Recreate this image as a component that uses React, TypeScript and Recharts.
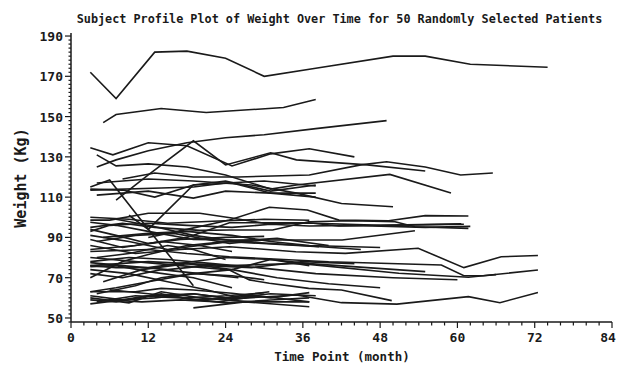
import React from 'react';
import { LineChart, Line, XAxis, YAxis } from 'recharts';

// Month / weight (kg) pairs for each subject
const upperProfiles: [number, number][][] = [
  [[3, 172], [7, 159], [13, 182], [18, 182.5], [24, 179], [30, 170], [38, 174], [50, 180], [55, 180], [62, 176], [74, 174.5]],
  [[5, 147], [7, 151], [14, 154], [21, 152], [33, 154.5], [38, 158.5]],
  [[4, 125], [7, 128.5], [12, 133], [18, 137], [24, 139.5], [30, 141], [38, 144], [49, 148]],
  [[3, 134.5], [6.5, 131], [12, 137], [18, 135.5], [25, 125.5], [31, 131.5], [37, 134], [44, 130]],
  [[4, 131], [7, 125.5], [12, 126.5], [18, 125], [24, 121], [31, 114], [35, 116], [49.5, 121.3], [59, 112]],
  [[7, 108.5], [12, 121], [19, 138], [24, 126], [31, 132], [35, 128.5], [46, 126], [55, 123]],
  [[8, 119], [13, 122], [19, 120], [26, 120], [37, 121], [45, 126], [49, 127.6], [55, 125], [60.5, 121], [65.5, 122]],
  [[3, 115], [6, 118.5], [12, 94], [19, 66]],
  [[9, 101], [12, 94], [19, 116], [24, 118], [31, 113], [38, 116]],
  [[3, 113.5], [14, 114.5], [19, 115], [24, 117], [30, 118], [38, 115.5]],
  [[4, 111], [12, 113], [19, 109.5], [24, 113], [31, 112], [38, 110]],
  [[3, 114], [8, 113.5], [13, 110], [19, 116], [25, 117], [31, 112], [38, 112]],
  [[4, 117], [12, 119], [19, 118], [28, 116], [35, 112], [42, 106.8], [50, 105.2]],
];

const middleProfiles: [number, number][][] = [
  [[3, 98.6], [6, 98.6], [12, 102], [20, 102], [25, 99.6], [30, 97], [38, 97], [48, 96], [61, 96.5]],
  [[12, 90], [18, 94], [24.6, 98.6], [30.8, 105], [36.7, 103.6], [41.6, 98.6], [49.3, 98.3], [55, 100.8], [61.7, 100.6]],
  [[3, 95], [8, 97], [13, 95], [20, 93.5], [24.6, 93.7], [31.3, 93.7], [36.9, 97.8], [43.6, 98.3], [50.3, 97.8], [53.4, 95.3], [61.7, 94.5]],
  [[3, 94], [7, 91], [12, 87], [18, 90], [24.6, 97.3], [36.9, 97.3], [41.6, 95.7], [60.6, 96.7]],
  [[3, 97.5], [7, 96], [12, 93], [19, 89], [24.6, 88.7], [31.3, 88.7], [42.1, 88.7], [53.4, 93.3]],
  [[3, 91], [9, 88], [15, 84], [24.6, 87.9], [38.5, 85.4]],
  [[4, 88], [10, 91], [16, 92], [24.6, 87], [30.8, 89]],
  [[3, 86], [10, 82], [17, 84], [24.6, 85.4], [34.9, 82.9], [42.6, 82.1], [53.9, 84.6], [61, 75], [66.8, 80.4], [72.5, 81]],
  [[3, 83], [12, 84], [18, 82], [24.6, 80.4], [40, 77.9], [57.5, 76.3], [61, 71], [64, 71], [66, 71.5]],
  [[3, 93], [6, 96], [12, 97], [18, 96], [25, 95], [31, 96.5], [37, 95.7], [44, 96], [55, 95], [62, 95.5]],
  [[5, 90], [12, 92], [18, 93], [25, 91], [31, 88], [37, 86], [48, 85]],
  [[3, 89], [8, 85], [14, 88], [20, 86], [25, 83]],
  [[4, 80], [9, 82], [15, 86], [19, 84], [24, 79]],
  [[3, 84], [10, 86], [17, 89], [24, 90], [30, 90.5]],
  [[7, 99], [12, 96], [19, 91], [26, 88], [36, 86], [45, 84]],
  [[3, 100], [9, 99], [15, 97], [22, 98], [30, 99], [37, 98.5]],
  [[3, 70], [8, 78], [12, 81.5], [18, 86], [24, 88], [32, 89.5], [40, 86]],
];

const lowerProfiles: [number, number][][] = [
  [[3, 76], [12, 78], [24.6, 76], [35.4, 77.1], [50.9, 72.2], [61.7, 70.2], [72.5, 73.8]],
  [[3, 77.5], [8, 76], [15, 74], [21, 76], [28, 75], [36, 78], [44, 77]],
  [[3, 75.5], [7, 76], [12, 73], [19, 70], [25, 65]],
  [[3, 63], [7, 65], [12, 68], [19, 72], [25, 74], [31, 79], [37, 77], [46, 75], [55, 73]],
  [[3, 63], [10, 63], [14, 64.7], [19, 63.9], [25, 62.3], [31, 60], [37, 62.6]],
  [[3, 61], [8, 59], [13, 60], [19, 62], [24, 60], [30.8, 63]],
  [[3, 59], [7, 58], [12, 61], [19, 62], [25, 59.5], [35, 61.4], [42, 57.6], [50.6, 56.9], [61.7, 60.6], [66.6, 57.6], [72.5, 62.6]],
  [[19, 55], [27, 58], [37, 55.6]],
  [[3, 60], [9, 57.5], [14, 63], [20, 60], [28, 58], [37, 58]],
  [[4, 58], [10, 61], [17, 60], [24, 57.5], [31, 58.9], [37, 60]],
  [[3, 80], [10, 78], [17, 76], [24.6, 73.8], [27.7, 68.9], [30.8, 67.2], [36.9, 64.7], [42, 63.9], [49.8, 58.6]],
  [[3, 74], [9, 72], [15, 68], [21, 64], [26, 60]],
  [[3, 76], [7, 75], [12, 75], [19, 78], [24, 80], [31, 79], [37, 76]],
  [[4, 62], [10, 66], [14, 70], [19, 72], [25, 71], [30, 69]],
  [[3, 57], [8, 59], [14, 62], [19, 59], [25, 60], [31, 62], [38, 61]],
  [[6, 59], [11, 58], [17, 59], [23, 58], [29, 61], [37, 58]],
  [[5, 68], [11, 74], [18, 77], [25, 74], [32, 70], [40, 67], [48, 65]],
  [[3, 78], [9, 80], [15, 79], [22, 77], [29, 75], [38, 72], [50, 70], [60, 69]],
  [[6, 64], [12, 62], [18, 60], [24, 61], [30, 62.5]],
  [[3, 72], [8, 70], [14, 74], [20, 72], [26, 70]],
];

const xTicks = Array.from({ length: 43 }, (_, i) => i * 2); // 0..84, labels every 12
const yTicks = Array.from({ length: 72 }, (_, i) => 48 + i * 2); // 48..190, labels every 20

const allProfiles = [...upperProfiles, ...middleProfiles, ...lowerProfiles];

const FONT = '"DejaVu Sans Mono", monospace';
const INK = '#1a1a1a';

const XTick = (props: any) => {
  const { x, y, payload } = props;
  const major = payload.value % 12 === 0;
  // last label sits against the right edge, nudge it in
  const lx = payload.value === 84 ? x - 4 : x;
  return (
    <g>
      <line x1={x} x2={x} y1={y} y2={y + (major ? 6 : 3.5)} stroke={INK} strokeWidth={1.2} />
      {major && (
        <text x={lx} y={y + 20} textAnchor="middle" fontFamily={FONT} fontSize={13} fontWeight="bold" fill={INK}>
          {payload.value}
        </text>
      )}
    </g>
  );
};

const YTick = (props: any) => {
  const { x, y, payload } = props;
  const major = payload.value % 20 === 10;
  return (
    <g>
      <line x1={x} x2={x - (major ? 6 : 2.5)} y1={y} y2={y} stroke={INK} strokeWidth={1.2} />
      {major && (
        <text x={x - 8} y={y + 5} textAnchor="end" fontFamily={FONT} fontSize={13} fontWeight="bold" fill={INK}>
          {payload.value}
        </text>
      )}
    </g>
  );
};

const App: React.FC = () => {
  return (
    <div style={{ position: 'absolute', left: 0, top: 0, width: 618, height: 368, background: '#fff' }}>
      <LineChart width={618} height={368} margin={{ top: 33, right: 6, left: 0, bottom: 0 }}>
        <XAxis
          dataKey="m"
          type="number"
          domain={[0, 84]}
          ticks={xTicks}
          interval={0}
          tick={<XTick />}
          tickLine={false}
          tickSize={0}
          tickMargin={0}
          height={46}
          axisLine={{ stroke: INK, strokeWidth: 1.5 }}
        />
        <XAxis xAxisId="top" orientation="top" type="number" domain={[0, 84]} tick={false} tickLine={false} height={0} axisLine={{ stroke: INK, strokeWidth: 1.5 }} />
        <YAxis
          type="number"
          domain={[48, 191.5]}
          ticks={yTicks}
          interval={0}
          tick={<YTick />}
          tickLine={false}
          tickSize={0}
          tickMargin={0}
          width={71}
          axisLine={{ stroke: INK, strokeWidth: 1.5 }}
        />
        <YAxis yAxisId="right" orientation="right" type="number" domain={[48, 191.5]} tick={false} tickLine={false} width={0} axisLine={{ stroke: INK, strokeWidth: 1.5 }} />
        {allProfiles.map((pts, i) => (
          <Line
            key={i}
            data={pts.map(([m, w]) => ({ m, w }))}
            dataKey="w"
            type="linear"
            stroke={INK}
            strokeWidth={1.6}
            dot={false}
            activeDot={false}
            isAnimationActive={false}
          />
        ))}
      </LineChart>
      <svg width={618} height={368} style={{ position: 'absolute', left: 0, top: 0, pointerEvents: 'none' }}>
        <text x={339.5} y={23} textAnchor="middle" fontFamily={FONT} fontSize={11.8} fontWeight="bold" fill={INK}>
          Subject Profile Plot of Weight Over Time for 50 Randomly Selected Patients
        </text>
        <text x={342} y={361} textAnchor="middle" fontFamily={FONT} fontSize={12.5} fontWeight="bold" fill={INK}>
          Time Point (month)
        </text>
        <text x={26} y={178} transform="rotate(-90 26 178)" textAnchor="middle" fontFamily={FONT} fontSize={15} fontWeight="bold" fill={INK}>
          Weight (Kg)
        </text>
      </svg>
    </div>
  );
};

export default App;
